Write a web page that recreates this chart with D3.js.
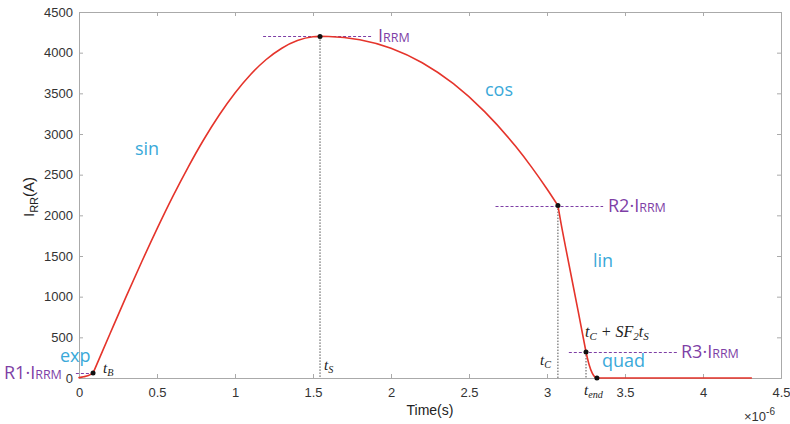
<!DOCTYPE html>
<html>
<head>
<meta charset="utf-8">
<script src="https://cdn.jsdelivr.net/npm/d3@7"></script>
<style>
  body { margin: 0; background: #fff; }
  svg { display: block; }
  .tick text { font-family: Arial, "Liberation Sans", sans-serif; font-size: 13px; fill: #333; }
</style>
</head>
<body>
<div id="chart"></div>
<script>
// time in microseconds, current in A
const timeUs = [0, 0.03, 0.06, 0.09, 0.15, 0.2, 0.3, 0.4, 0.5, 0.6, 0.7, 0.8, 0.9, 1.0, 1.1, 1.2, 1.3, 1.4, 1.5, 1.545,
    1.6, 1.8, 2.0, 2.2, 2.4, 2.6, 2.8, 2.9, 3.0, 3.07,
    3.09, 3.12, 3.2, 3.25, 3.27, 3.29, 3.31, 3.32, 3.6, 4.0, 4.31];
const currentA = [5, 15, 30, 60, 328, 550, 991, 1420, 1833, 2226, 2593, 2932, 3236, 3503, 3731, 3916, 4055, 4149, 4195, 4200,
    4199, 4159, 4055, 3876, 3618, 3275, 2845, 2596, 2324, 2120,
    1900, 1600, 820, 320, 163, 59, 6, 0, 0, 0, 0];

// characteristic points: tB, tS, tC, tC+SF2*tS, tend
const keyT = [0.09, 1.545, 3.07, 3.25, 3.32];
const keyI = [60, 4200, 2120, 320, 0];

const xTicks = [0, 0.5, 1, 1.5, 2, 2.5, 3, 3.5, 4, 4.5];
const yTicks = [0, 500, 1000, 1500, 2000, 2500, 3000, 3500, 4000, 4500];

const W = 790, H = 424;
const m = { left: 79, right: 9, top: 12, bottom: 46 };
const pw = W - m.left - m.right, ph = H - m.top - m.bottom;

const svg = d3.select('#chart').append('svg').attr('width', W).attr('height', H);
const g = svg.append('g').attr('transform', `translate(${m.left},${m.top})`);

const x = d3.scaleLinear().domain([0, 4.5]).range([0, pw]);
const y = d3.scaleLinear().domain([0, 4500]).range([ph, 0]);

const axisColor = '#aaa';
const fmt = d3.format('');

let ax = g.append('g').attr('transform', `translate(0,${ph})`)
    .call(d3.axisBottom(x).tickValues(xTicks).tickSize(-4).tickPadding(10).tickFormat(fmt));
let ay = g.append('g')
    .call(d3.axisLeft(y).tickValues(yTicks).tickSize(-4).tickPadding(6).tickFormat(fmt));
let axt = g.append('g').call(d3.axisTop(x).tickValues(xTicks).tickSize(-4).tickFormat(''));
let ayr = g.append('g').attr('transform', `translate(${pw},0)`)
    .call(d3.axisRight(y).tickValues(yTicks).tickSize(-4).tickFormat(''));
[ax, ay, axt, ayr].forEach(a => {
    a.selectAll('path, line').attr('stroke', axisColor);
});

// dashed level lines (purple)
const purple = '#7e3fa6';
const levels = [
    { i: 0, x0: -0.02, x1: 0.09 },
    { i: 1, x0: 1.18, x1: 1.88 },
    { i: 2, x0: 2.67, x1: 3.36 },
    { i: 3, x0: 3.14, x1: 3.84 }
];
levels.forEach(l => {
    const yy = Math.round(y(keyI[l.i])) + 0.5;
    g.append('line')
        .attr('x1', x(l.x0)).attr('x2', x(l.x1))
        .attr('y1', yy).attr('y2', yy)
        .attr('stroke', purple).attr('stroke-width', 1).attr('stroke-dasharray', '3,2');
});

// vertical dotted lines
[1, 2, 3].forEach(k => {
    g.append('line')
        .attr('x1', x(keyT[k])).attr('x2', x(keyT[k]))
        .attr('y1', y(keyI[k])).attr('y2', y(0))
        .attr('stroke', '#222').attr('stroke-width', 0.8).attr('stroke-dasharray', '1.5,1.5');
});

// curve, drawn piece by piece so the corners at the key points stay sharp
const line = d3.line().x(d => x(d[0])).y(d => y(d[1])).curve(d3.curveMonotoneX);
const pts = timeUs.map((t, i) => [t, currentA[i]]);
const cuts = [0].concat(keyT.map(k => timeUs.indexOf(k)), [timeUs.length - 1]);
for (let s = 0; s < cuts.length - 1; s++) {
    g.append('path').datum(pts.slice(cuts[s], cuts[s + 1] + 1)).attr('d', line)
        .attr('fill', 'none').attr('stroke', '#e5342b').attr('stroke-width', 1.6)
        .attr('stroke-linejoin', 'round').attr('stroke-linecap', 'round');
}

// markers
g.selectAll('.dot').data(keyT).enter().append('circle')
    .attr('cx', d => x(d)).attr('cy', (d, i) => y(keyI[i])).attr('r', 2.5).attr('fill', '#111');

// segment names (blue)
const blue = '#3aa9d9';
const segs = [
    { t: 'exp', px: 60, py: 362 },
    { t: 'sin', px: 135, py: 155 },
    { t: 'cos', px: 485, py: 96 },
    { t: 'lin', px: 593, py: 267 },
    { t: 'quad', px: 602, py: 367 }
];
segs.forEach(s => {
    svg.append('text').attr('x', s.px).attr('y', s.py).text(s.t)
        .attr('font-family', '"Open Sans", "Noto Sans", sans-serif').attr('font-size', 18).attr('fill', blue);
});

// level labels (purple)
function levelLabel(px, py, pre) {
    const t = svg.append('text').attr('x', px).attr('y', py)
        .attr('font-family', '"Open Sans", "Noto Sans", sans-serif').attr('fill', purple);
    t.append('tspan').attr('font-size', 18).text(pre + 'I');
    t.append('tspan').attr('font-size', 12.5).text('RRM');
}
levelLabel(4, 379, 'R1·');
levelLabel(378, 42, '');
levelLabel(608, 212, 'R2·');
levelLabel(681, 358, 'R3·');

// time labels (italic serif)
function tLabel(px, py, size, main, sub, extra) {
    const t = svg.append('text').attr('x', px).attr('y', py)
        .attr('font-family', '"Liberation Serif", "DejaVu Serif", serif').attr('font-style', 'italic')
        .attr('font-size', size).attr('fill', '#222');
    t.append('tspan').text(main);
    t.append('tspan').attr('font-size', size * 0.68).attr('dy', 3).text(sub);
    if (extra) extra(t);
}
tLabel(103, 373, 15, 't', 'B');
tLabel(324, 370, 15, 't', 'S');
tLabel(540, 365, 15, 't', 'C');
tLabel(584, 395, 15, 't', 'end');
tLabel(585, 337, 16, 't', 'C', t => {
    t.append('tspan').attr('dy', -3).text(' + SF');
    t.append('tspan').attr('font-size', 11).attr('dy', 3).text('2');
    t.append('tspan').attr('dy', -3).text('t');
    t.append('tspan').attr('font-size', 11).attr('dy', 3).text('S');
});

// axis titles
const sans = 'Arial, "Liberation Sans", sans-serif';
svg.append('text').attr('x', m.left + pw / 2).attr('y', 415).attr('text-anchor', 'middle')
    .attr('font-family', sans).attr('font-size', 14).attr('fill', '#222').text('Time(s)');
const yl = svg.append('text').attr('transform', `translate(34,197) rotate(-90)`)
    .attr('text-anchor', 'middle').attr('font-family', sans).attr('font-size', 15).attr('fill', '#222');
yl.append('tspan').text('I');
yl.append('tspan').attr('font-size', 11).attr('dy', 4).text('RR');
yl.append('tspan').attr('dy', -4).text('(A)');

const ex = svg.append('text').attr('x', 744).attr('y', 421)
    .attr('font-family', sans).attr('font-size', 13).attr('fill', '#333');
ex.append('tspan').text('×10');
ex.append('tspan').attr('font-size', 10).attr('dy', -6).text('-6');
</script>
</body>
</html>
